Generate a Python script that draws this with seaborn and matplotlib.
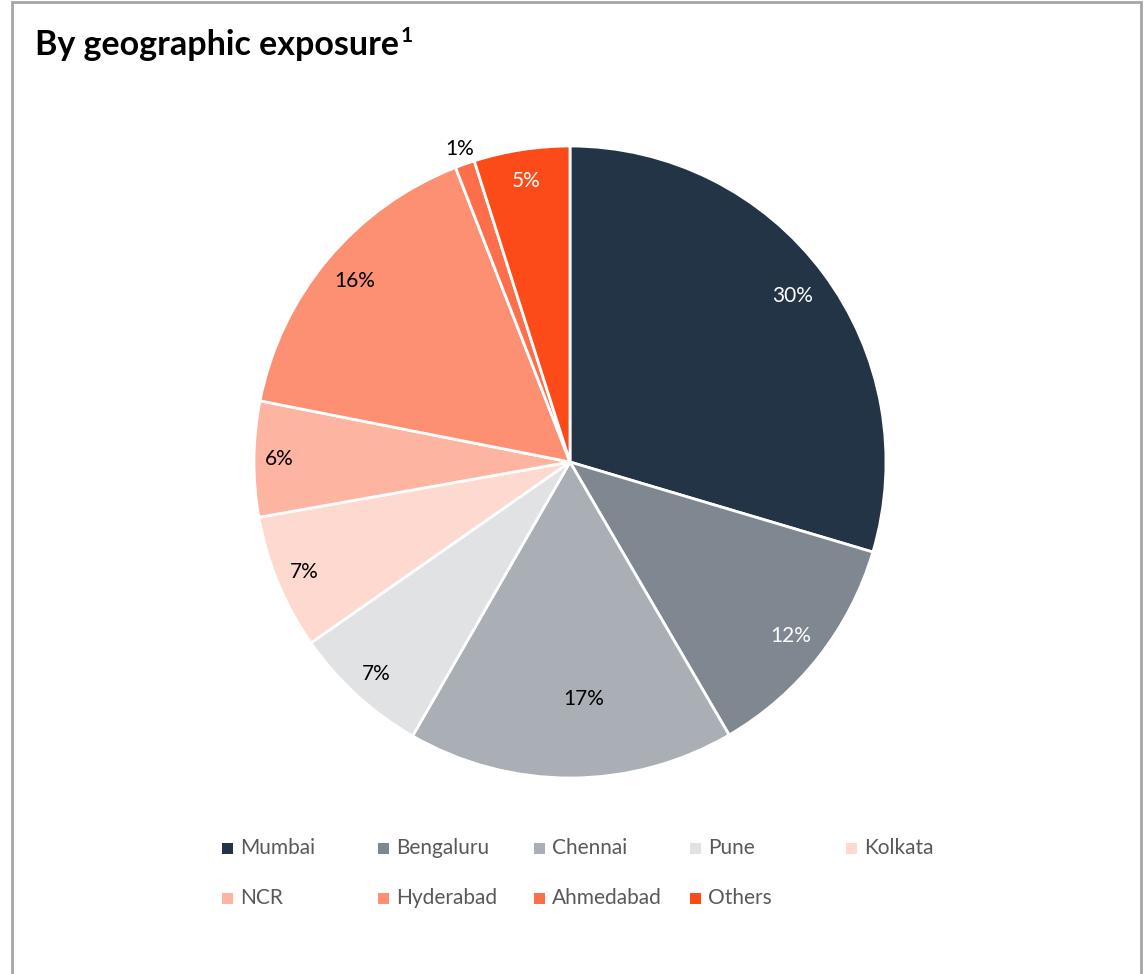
import matplotlib
matplotlib.use("Agg")
import matplotlib.pyplot as plt
import seaborn as sns
import numpy as np
from matplotlib.patches import Rectangle
from matplotlib.transforms import offset_copy

sns.set_theme(style="white")
plt.rcParams['font.family'] = ['Lato', 'DejaVu Sans']

categories = ["Mumbai", "Bengaluru", "Chennai", "Pune", "Kolkata",
              "NCR", "Hyderabad", "Ahmedabad", "Others"]
values = [29.6, 12.0, 16.7, 7.0, 6.9, 5.9, 16.0, 1.0, 4.9]
pct_labels = ["30%", "12%", "17%", "7%", "7%", "6%", "16%", "1%", "5%"]
colors = ["#243447", "#7f8890", "#a9afb5", "#e1e2e4", "#fdd9d0",
          "#fdb4a0", "#fd9072", "#fd6e4a", "#fc4a18"]
label_colors = ["white", "white", "black", "black", "black",
                "black", "black", "black", "white"]
label_dist = [0.88, 0.89, 0.75, 0.91, 0.91, 0.92, 0.89, 1.05, 0.90]

W, H = 1144, 974
fig = plt.figure(figsize=(W / 100, H / 100), dpi=100)
fig.patch.set_facecolor("white")

# frame border
fig.add_artist(Rectangle((12 / W, -0.01), (1141 - 12) / W, 1 - 2 / H + 0.01,
                         transform=fig.transFigure, fill=False,
                         edgecolor="#a6a6a6", linewidth=2))

cx, cy, r = 570, 462, 316
ax = fig.add_axes([(cx - r) / W, (H - cy - r) / H, 2 * r / W, 2 * r / H])
wedges, _ = ax.pie(values, colors=colors, startangle=90, counterclock=False,
                   wedgeprops=dict(edgecolor="white", linewidth=2))
ax.set_xlim(-1, 1)
ax.set_ylim(-1, 1)
ax.set_aspect("equal")
ax.axis("off")

for w, lab, c, d in zip(wedges, pct_labels, label_colors, label_dist):
    ang = np.deg2rad((w.theta1 + w.theta2) / 2)
    x, y = d * np.cos(ang), d * np.sin(ang)
    if lab == "17%":
        x += 0.04
    ax.text(x, y, lab, ha="center", va="center", color=c, fontsize=15)

t = fig.text(35 / W, 1 - 55 / H, "By geographic exposure",
             fontsize=24.5, fontweight="bold", color="black",
             va="baseline", ha="left")
fig.canvas.draw()
bb = t.get_window_extent(renderer=fig.canvas.get_renderer())
fig.text((bb.x1 + 2) / W, 1 - 42 / H, "1", fontsize=15, fontweight="bold",
         color="black", va="baseline", ha="left")

# legend
col_x = [222, 378, 534, 690, 846]
row_y = [848, 898]
for i, (cat, col) in enumerate(zip(categories, colors)):
    x = col_x[i % 5]
    y = row_y[i // 5]
    fig.add_artist(Rectangle((x / W, (H - y - 5.5) / H), 11 / W, 11 / H,
                             transform=fig.transFigure, facecolor=col,
                             edgecolor="none"))
    fig.text((x + 18) / W, 1 - y / H, cat, fontsize=15, color="#595959",
             va="center", ha="left")

fig.savefig("out.png", dpi=100)
